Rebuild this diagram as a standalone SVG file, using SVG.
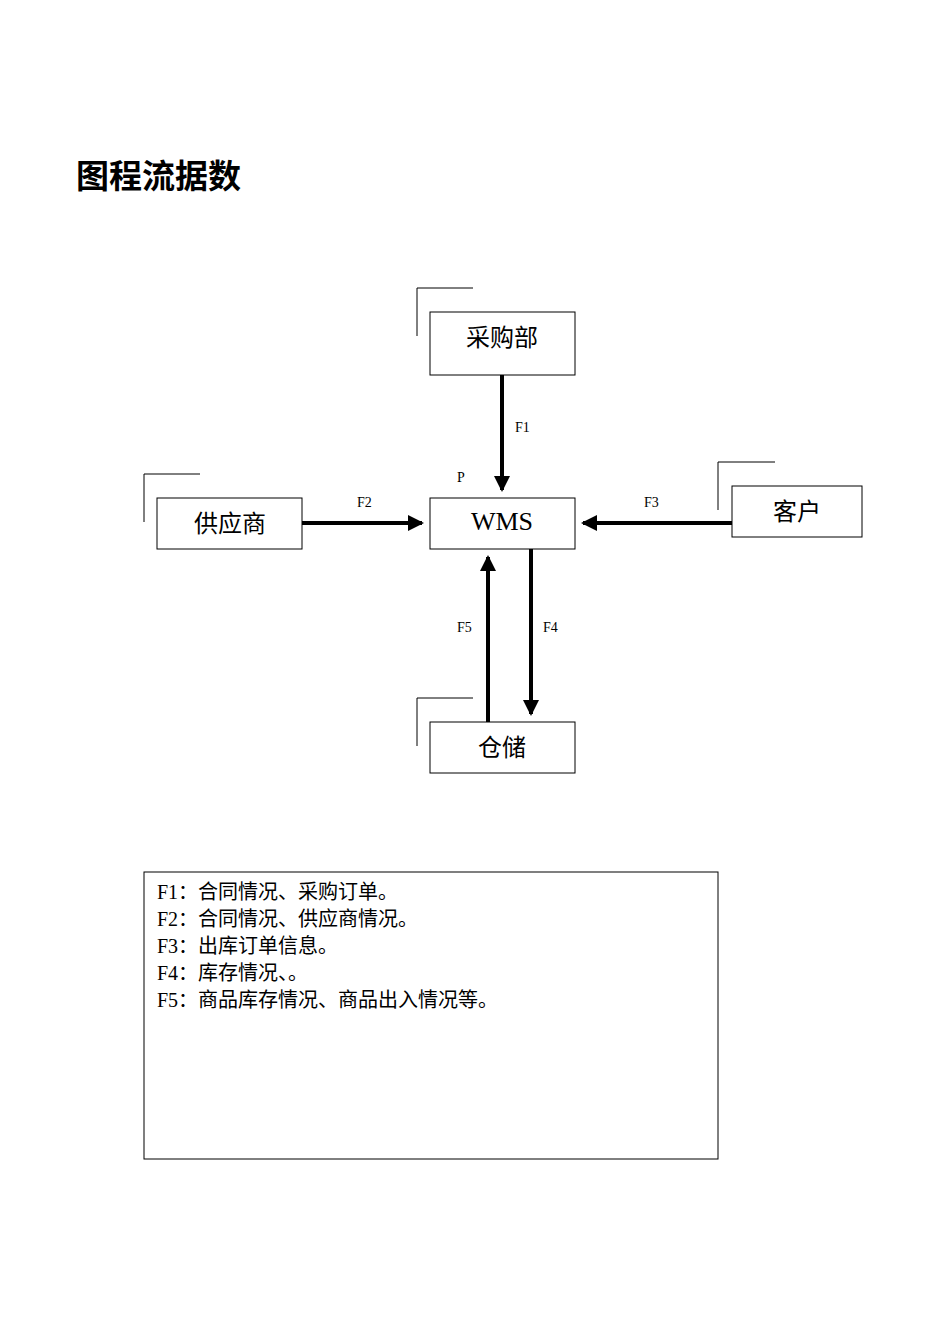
<svg xmlns="http://www.w3.org/2000/svg" width="950" height="1344" viewBox="0 0 950 1344">
<style>
.box{fill:#fff;stroke:#000;stroke-width:1}
.br{fill:none;stroke:#000;stroke-width:1}
.cj{font-family:"Noto Sans CJK SC","Liberation Sans",sans-serif;font-size:24px;text-anchor:middle}
.lb{font-family:"Liberation Serif",serif;font-size:14px}
.lg{font-family:"Liberation Serif","Noto Sans CJK SC",serif;font-size:20px}
.ar{stroke:#000;stroke-width:4;fill:none;marker-end:url(#a)}
</style>
<defs><marker id="a" markerWidth="4" markerHeight="4" refX="3.5" refY="2" orient="auto" markerUnits="strokeWidth"><path d="M0,0 L4,2 L0,4 z" fill="#000"/></marker></defs>
<rect width="950" height="1344" fill="#fff"/>
<text x="76" y="188" font-family="Noto Sans CJK SC,sans-serif" font-weight="bold" font-size="33">图程流据数</text>
<g id="cg">
<path class="ar" d="M502,375 V490"/>
<path class="ar" d="M302,523 H422"/>
<path class="ar" d="M732,523 H583"/>
<path class="ar" d="M488,722 V557"/>
<path class="ar" d="M531,549 V714"/>
</g>
<g class="lb"><text x="515" y="432">F1</text><text x="457" y="482">P</text><text x="357" y="507">F2</text><text x="644" y="507">F3</text><text x="457" y="632">F5</text><text x="543" y="632">F4</text></g>
<g id="cgb"><path class="br" d="M417,336 V288 H473"/><rect class="box" x="430" y="312" width="145" height="63"/><text class="cj" x="502" y="346">采购部</text></g>
<g id="wms"><rect class="box" x="430" y="498" width="145" height="51"/><text x="502" y="530" font-family="Liberation Serif,serif" font-size="26" text-anchor="middle">WMS</text></g>
<g id="gys"><path class="br" d="M144,522 V474 H200"/><rect class="box" x="157" y="498" width="145" height="51"/><text class="cj" x="230" y="532">供应商</text></g>
<g id="kh"><path class="br" d="M718,510 V462 H775"/><rect class="box" x="732" y="486" width="130" height="51"/><text class="cj" x="797" y="520">客户</text></g>
<g id="cc"><path class="br" d="M417,746 V698 H473"/><rect class="box" x="430" y="722" width="145" height="51"/><text class="cj" x="502" y="756">仓储</text></g>
<g id="legend"><rect class="box" x="144" y="872" width="574" height="287"/>
<g class="lg"><text x="157" y="899">F1：合同情况、采购订单。</text><text x="157" y="926">F2：合同情况、供应商情况。</text><text x="157" y="953">F3：出库订单信息。</text><text x="157" y="980">F4：库存情况、。</text><text x="157" y="1007">F5：商品库存情况、商品出入情况等。</text></g></g>
</svg>
